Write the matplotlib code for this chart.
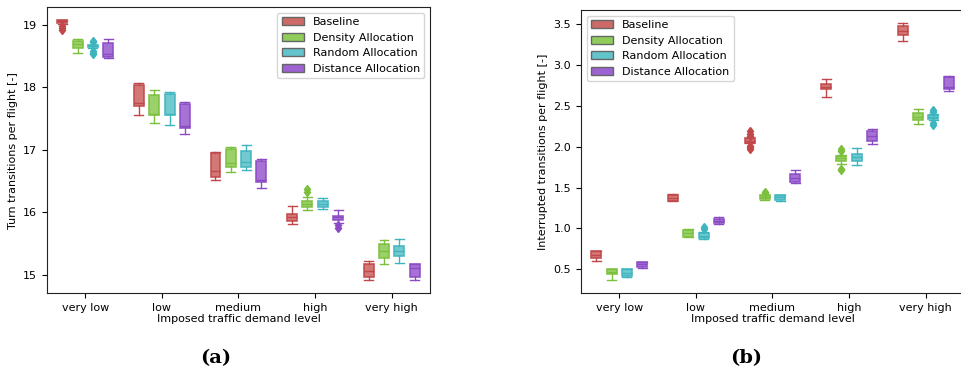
import numpy as np
import matplotlib
matplotlib.use("Agg")
import matplotlib.pyplot as plt
from matplotlib.patches import Patch

levels = ["very low", "low", "medium", "high", "very high"]
series = ["Baseline", "Density Allocation", "Random Allocation", "Distance Allocation"]

# (a) turn transitions per flight, one row per series, one column per level
turn_med = [[19.05, 17.75, 16.67, 15.93, 15.07],
            [18.69, 17.57, 16.79, 16.14, 15.39],
            [18.66, 17.57, 16.81, 16.14, 15.39],
            [18.53, 17.38, 16.52, 15.92, 15.11]]
turn_q1 = [[19.02, 17.70, 16.57, 15.87, 14.97],
           [18.63, 17.55, 16.72, 16.09, 15.28],
           [18.64, 17.55, 16.72, 16.09, 15.31],
           [18.49, 17.35, 16.48, 15.88, 14.97]]
turn_q3 = [[19.08, 18.03, 16.95, 15.98, 15.17],
           [18.74, 17.87, 17.01, 16.19, 15.49],
           [18.68, 17.89, 16.98, 16.19, 15.47],
           [18.70, 17.73, 16.82, 15.95, 15.17]]
turn_lo = [[19.01, 17.56, 16.52, 15.81, 14.92],
           [18.55, 17.43, 16.65, 16.04, 15.17],
           [18.63, 17.40, 16.68, 16.05, 15.19],
           [18.46, 17.25, 16.39, 15.84, 14.92]]
turn_hi = [[19.08, 18.07, 16.96, 16.11, 15.22],
           [18.77, 17.96, 17.04, 16.24, 15.56],
           [18.68, 17.93, 17.07, 16.23, 15.57],
           [18.77, 17.76, 16.85, 16.04, 15.18]]
turn_fliers = {(0, 0): [18.97, 18.94, 18.92],
               (2, 0): [18.74, 18.72, 18.58, 18.55, 18.53],
               (1, 3): [16.37, 16.33],
               (3, 3): [15.80, 15.76]}

# (b) interrupted transitions per flight
int_med = [[0.68, 1.37, 2.07, 2.73, 3.41],
           [0.47, 0.94, 1.38, 1.86, 2.36],
           [0.46, 0.91, 1.38, 1.87, 2.36],
           [0.56, 1.09, 1.62, 2.13, 2.73]]
int_q1 = [[0.64, 1.34, 2.05, 2.70, 3.37],
          [0.44, 0.90, 1.36, 1.83, 2.32],
          [0.42, 0.88, 1.35, 1.83, 2.34],
          [0.53, 1.07, 1.57, 2.07, 2.70]]
int_q3 = [[0.72, 1.41, 2.10, 2.77, 3.48],
          [0.50, 0.98, 1.41, 1.89, 2.41],
          [0.50, 0.95, 1.41, 1.91, 2.39],
          [0.59, 1.12, 1.67, 2.19, 2.85]]
int_lo = [[0.60, 1.33, 2.04, 2.61, 3.29],
          [0.37, 0.89, 1.35, 1.79, 2.28],
          [0.41, 0.87, 1.33, 1.77, 2.32],
          [0.52, 1.06, 1.56, 2.03, 2.68]]
int_hi = [[0.73, 1.42, 2.11, 2.83, 3.51],
          [0.51, 0.99, 1.41, 1.90, 2.46],
          [0.50, 0.96, 1.41, 1.98, 2.40],
          [0.59, 1.14, 1.72, 2.22, 2.86]]
int_fliers = {(0, 2): [2.19, 2.16, 2.13, 2.01, 1.99, 1.97],
              (1, 2): [1.45, 1.43],
              (2, 1): [1.02, 0.99],
              (1, 3): [1.97, 1.95, 1.73, 1.71],
              (2, 4): [2.45, 2.42, 2.29, 2.26]}

face_colors = ["#cd6a67", "#8fcc5a", "#63c4cb", "#9d63d2"]
edge_colors = ["#c0474a", "#7cbf3c", "#3db5bf", "#8a4bc4"]
offsets = [-0.3, -0.1, 0.1, 0.3]
box_w = 0.13

plt.rcParams["font.family"] = ["DejaVu Sans"]
plt.rcParams["font.size"] = 8


def draw_panel(ax, med, q1, q3, lo, hi, fliers):
    for s in range(len(series)):
        stats = []
        for k in range(len(levels)):
            stats.append(dict(med=med[s][k], q1=q1[s][k], q3=q3[s][k],
                              whislo=lo[s][k], whishi=hi[s][k],
                              fliers=fliers.get((s, k), [])))
        pos = np.arange(len(levels)) + offsets[s]
        ec = edge_colors[s]
        ax.bxp(stats, positions=pos, widths=box_w, patch_artist=True,
               capwidths=box_w * 0.9, manage_ticks=False,
               boxprops=dict(facecolor=face_colors[s], edgecolor=ec, linewidth=1.2, alpha=0.9),
               medianprops=dict(color=ec, linewidth=1.0),
               whiskerprops=dict(color=ec, linewidth=1.0),
               capprops=dict(color=ec, linewidth=1.0),
               flierprops=dict(marker="d", markerfacecolor=ec, markeredgecolor=ec,
                               markersize=4.5, linestyle="none"))
    ax.set_xlim(-0.5, 4.5)
    ax.set_xticks(range(len(levels)))
    ax.set_xticklabels(levels)
    ax.set_xlabel("Imposed traffic demand level", labelpad=1)
    for sp in ax.spines.values():
        sp.set_color("#222222")


fig = plt.figure(figsize=(9.61, 3.73), dpi=100)
ax1 = fig.add_axes([0.0489, 0.2137, 0.3985, 0.7675])
ax2 = fig.add_axes([0.6046, 0.2137, 0.3985, 0.7595])

draw_panel(ax1, turn_med, turn_q1, turn_q3, turn_lo, turn_hi, turn_fliers)
ax1.set_ylim(14.71, 19.28)
ax1.set_yticks([15, 16, 17, 18, 19])
ax1.set_ylabel("Turn transitions per flight [-]")

draw_panel(ax2, int_med, int_q1, int_q3, int_lo, int_hi, int_fliers)
ax2.set_ylim(0.207, 3.67)
ax2.set_yticks([0.5, 1.0, 1.5, 2.0, 2.5, 3.0, 3.5])
ax2.set_ylabel("Interrupted transitions per flight [-]")

handles = [Patch(facecolor=face_colors[i], edgecolor="0.4", label=series[i]) for i in range(len(series))]
ax1.legend(handles=handles, loc="upper right", fontsize=8)
ax2.legend(handles=handles, loc="upper left", fontsize=8)

fig.text(0.224, 0.04, "(a)", ha="center", va="center", fontsize=14,
         fontweight="bold", family="DejaVu Serif")
fig.text(0.776, 0.04, "(b)", ha="center", va="center", fontsize=14,
         fontweight="bold", family="DejaVu Serif")

fig.savefig("out.png", dpi=100)
